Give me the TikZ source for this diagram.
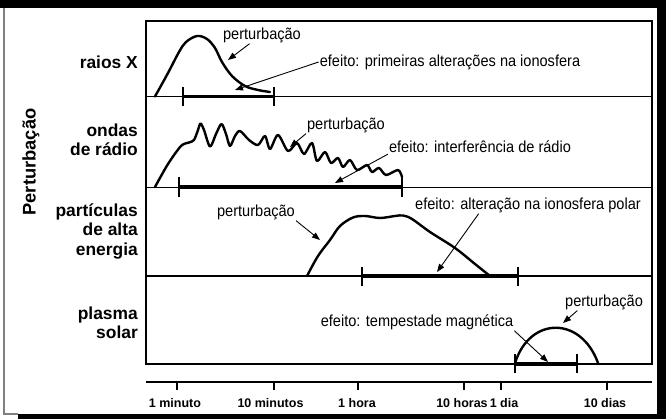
\documentclass[tikz,border=0pt]{standalone}
\usepackage{fontspec}
\setmainfont{Liberation Sans}
\newfontfamily\lblfamily{Liberation Sans}[FakeStretch=0.91]
\usetikzlibrary{arrows.meta}
\newcommand{\lblfont}{\lblfamily\fontsize{16}{18}\selectfont}
\newcommand{\rowfont}{\fontsize{17.4}{19.5}\selectfont\bfseries}

\begin{document}
\begin{tikzpicture}[x=1pt, y=-1pt,
  curve/.style={line width=2.4pt, line join=round, line cap=round},
  effbar/.style={line width=3.6pt},
  barend/.style={line width=2pt},
  pointer/.style={-{Triangle[length=8pt,width=6pt]}, line width=0.9pt},
  lbl/.style={inner sep=1pt, font=\lblfont},
  rowlbl/.style={anchor=east, align=right, inner sep=0pt, font=\rowfont},
  ticklbl/.style={inner sep=0pt, font=\fontsize{12.5}{14}\selectfont\bfseries}]
  \useasboundingbox (0,0) rectangle (666,419);
  \fill[black] (0,0) rectangle (666,419);
  \fill[white] (0,8) rectangle (657,414);
  \fill[white] (0,414) rectangle (18,419);
  \draw[gray, line width=1.2pt] (4,8) -- (4,414) -- (18,414);

  \node[font=\fontsize{18.3}{20}\selectfont\bfseries, rotate=90] (ylbl) at (31,162) {Perturbação};
  \node[rowlbl] (rx) at (138,62) {raios X};
  \node[rowlbl] (rrad) at (138,140) {ondas\\de rádio};
  \node[rowlbl] (rpart) at (138,231) {partículas\\de alta\\energia};
  \node[rowlbl] (rplas) at (138,323) {plasma\\solar};

  \draw[line width=2.5pt] (146,21) rectangle (652,364);
  \foreach \y in {96.7,187.3,276}
    \draw[line width=1.2pt] (146,\y) -- (652,\y);

  % curvas
  \draw[curve] plot[smooth, tension=0.55] coordinates {(155,96.5) (168,73) (179,52) (186,42) (197,36) (207,39) (215,48) (222,62) (232,76) (245,86) (258,90) (270,92)};
  \draw[curve] plot[smooth, tension=0.5] coordinates {(155,187) (168,164) (181,146) (189,142.5) (194,140) (198,130) (200.5,123.5) (204,130) (210,146.5) (216,134) (221.5,124) (226,134) (230,146) (235,136) (240,131) (249,140) (258,145) (265,136) (270,149) (278,135) (288,151) (297,143) (304,154) (312,143) (317,161) (325,152) (331,163) (338,158) (343,167) (350,160) (357,170) (367,165) (372,172) (379,168) (386,175) (398,170) (402,177)};
  \draw[curve] plot[smooth, tension=0.55] coordinates {(307,276) (318,256) (330,240) (340,226) (353,217.5) (365,216) (380,218) (395,216) (403,215.5) (412,219) (430,232) (455,248) (475,264) (490,276)};
  \draw[curve] (515,363) .. controls (530,316) and (581,316) .. (598,363);

  % efeitos
  \foreach \a/\b/\y/\lo/\hi in {183/274/96.7/87/106, 179/402/187.3/177/197, 362/518/276/267/286, 515/577/364/354/373} {
    \draw[effbar] (\a,\y) -- (\b,\y);
    \draw[barend] (\a,\lo) -- (\a,\hi) (\b,\lo) -- (\b,\hi);
  }

  \node[lbl] (xpert) at (262,35) {perturbação};
  \node[lbl] (xeff) at (450,62) {efeito: primeiras alterações na ionosfera};
  \node[lbl] (rpert) at (346,125) {perturbação};
  \node[lbl] (reff) at (480,147) {efeito: interferência de rádio};
  \node[lbl] (ppert) at (256,212) {perturbação};
  \node[lbl] (peff) at (528,205) {efeito: alteração na ionosfera polar};
  \node[lbl] (spert) at (604,302) {perturbação};
  \node[lbl] (seff) at (417,322) {efeito: tempestade magnética};

  \coordinate (xtip1) at (228,60);
  \coordinate (xtip2) at (235,90);
  \coordinate (rtip1) at (290,147);
  \coordinate (rtip2) at (335,183);
  \coordinate (ptip1) at (320,240);
  \coordinate (ptip2) at (437,272);
  \coordinate (stip1) at (563,323);
  \coordinate (stip2) at (548,362);

  \draw[pointer] (xpert.215) -- (xtip1);
  \draw[pointer] (xeff.west) -- (xtip2);
  \draw[pointer] (rpert.south west) -- (rtip1);
  \draw[pointer] (reff.south west) -- (rtip2);
  \draw[pointer] (ppert.south east) -- (ptip1);
  \draw[pointer] (peff.190) -- (ptip2);
  \draw[pointer] (spert.198) -- (stip1);
  \draw[pointer] (seff.south east) -- (stip2);

  % eixo do tempo
  \draw[line width=2.6pt] (146,382) -- (652,382);
  \foreach \x/\lx/\t [count=\i] in {177/175/1 minuto, 274/270.5/10 minutos, 358/357/1 hora, 464/462/10 horas, 501/504/1 dia, 607/605/10 dias} {
    \draw[line width=2pt] (\x,382) -- (\x,390);
    \node[ticklbl] (t\i) at (\lx,403) {\t};
  }
\end{tikzpicture}
\end{document}
